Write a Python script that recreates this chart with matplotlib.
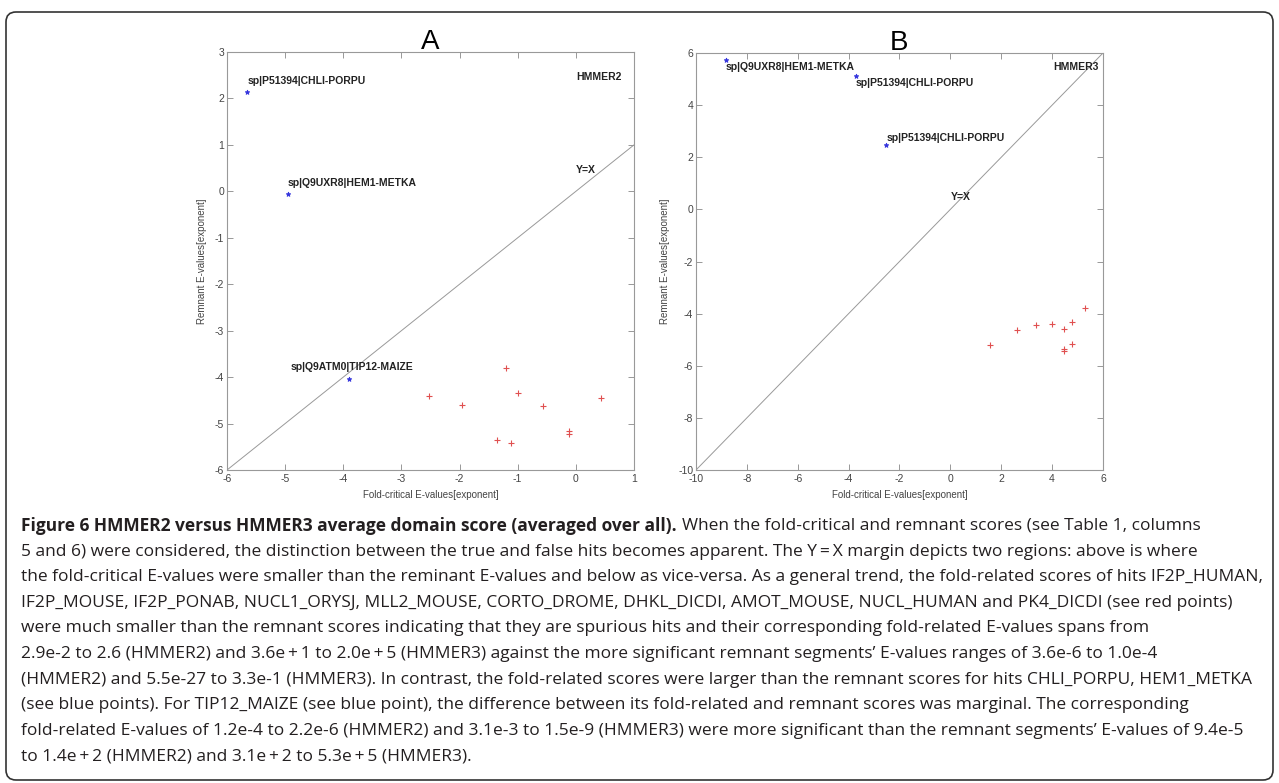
import matplotlib
matplotlib.use('agg')
import matplotlib.pyplot as plt
from matplotlib.patches import FancyBboxPatch
from matplotlib.transforms import IdentityTransform

W, H = 1279, 783

# panel A (HMMER2)
a_blue_x = [-5.65, -4.95, -3.91]
a_blue_y = [2.14, -0.05, -4.03]
a_blue_lbl = ['sp|P51394|CHLI-PORPU', 'sp|Q9UXR8|HEM1-METKA', 'sp|Q9ATM0|TIP12-MAIZE']
a_red_x = [-2.53, -1.96, -1.21, -0.99, -0.56, 0.43, -1.36, -1.12, -0.12, -0.12]
a_red_y = [-4.41, -4.60, -3.80, -4.35, -4.62, -4.44, -5.35, -5.41, -5.17, -5.22]

# panel B (HMMER3)
b_blue_x = [-8.83, -3.72, -2.52]
b_blue_y = [5.73, 5.13, 2.47]
b_blue_lbl = ['sp|Q9UXR8|HEM1-METKA', 'sp|P51394|CHLI-PORPU', 'sp|P51394|CHLI-PORPU']
b_red_x = [1.56, 2.61, 3.36, 3.99, 4.47, 4.78, 5.30, 4.47, 4.47, 4.78]
b_red_y = [-5.22, -4.63, -4.45, -4.41, -4.60, -4.34, -3.80, -5.35, -5.42, -5.18]

caption_bold = 'Figure 6 HMMER2 versus HMMER3 average domain score (averaged over all).'
caption_lines = [
    'When the fold-critical and remnant scores (see Table 1, columns',
    '5 and 6) were considered, the distinction between the true and false hits becomes apparent. The Y\u2009=\u2009X margin depicts two regions: above is where',
    'the fold-critical E-values were smaller than the reminant E-values and below as vice-versa. As a general trend, the fold-related scores of hits IF2P_HUMAN,',
    'IF2P_MOUSE, IF2P_PONAB, NUCL1_ORYSJ, MLL2_MOUSE, CORTO_DROME, DHKL_DICDI, AMOT_MOUSE, NUCL_HUMAN and PK4_DICDI (see red points)',
    'were much smaller than the remnant scores indicating that they are spurious hits and their corresponding fold-related E-values spans from',
    '2.9e-2 to 2.6 (HMMER2) and 3.6e\u2009+\u20091 to 2.0e\u2009+\u20095 (HMMER3) against the more significant remnant segments\u2019 E-values ranges of 3.6e-6 to 1.0e-4',
    '(HMMER2) and 5.5e-27 to 3.3e-1 (HMMER3). In contrast, the fold-related scores were larger than the remnant scores for hits CHLI_PORPU, HEM1_METKA',
    '(see blue points). For TIP12_MAIZE (see blue point), the difference between its fold-related and remnant scores was marginal. The corresponding',
    'fold-related E-values of 1.2e-4 to 2.2e-6 (HMMER2) and 3.1e-3 to 1.5e-9 (HMMER3) were more significant than the remnant segments\u2019 E-values of 9.4e-5',
    'to 1.4e\u2009+\u20092 (HMMER2) and 3.1e\u2009+\u20092 to 5.3e\u2009+\u20095 (HMMER3).',
]

plt.rcParams['font.family'] = ['Liberation Sans', 'DejaVu Sans']
plt.rcParams['axes.unicode_minus'] = False
fig = plt.figure(figsize=(W / 100, H / 100), dpi=100)
fig.patch.set_facecolor('white')


def box(l, t, r, b):
    return [l / W, 1 - b / H, (r - l) / W, (b - t) / H]


def style(ax, lims, ticks, title):
    ax.set_xlim(lims[0], lims[1])
    ax.set_ylim(lims[2], lims[3])
    ax.set_xticks(ticks[0])
    ax.set_yticks(ticks[1])
    ax.tick_params(direction='in', top=True, right=True, length=4, width=0.6,
                   color='#888888', labelsize=7.5, labelcolor='#444444', pad=2)
    ax.tick_params(axis='x', pad=3)
    for s in ax.spines.values():
        s.set_color('#999999')
        s.set_linewidth(0.8)
    ax.set_xlabel('Fold-critical E-values[exponent]', fontsize=7, color='#444444', labelpad=4)
    ax.set_ylabel('Remnant E-values[exponent]', fontsize=7, color='#444444', labelpad=6)
    ax.set_title(title, fontsize=20, pad=2)


axA = fig.add_axes(box(227, 52, 634, 470))
axB = fig.add_axes(box(696, 53, 1103, 470))

style(axA, (-6, 1, -6, 3), (range(-6, 2), range(-6, 4)), 'A')
style(axB, (-10, 6, -10, 6), (range(-10, 7, 2), range(-10, 7, 2)), 'B')

lblkw = dict(fontsize=7.5, color='#222222', fontweight='bold')

# panel A
axA.plot([-6, 1], [-6, 1], color='#999999', lw=0.7)
axA.plot(a_blue_x, a_blue_y, '*', color='#3333dd', ms=3.5, mew=0.6)
axA.plot(a_red_x, a_red_y, '+', color='#e05050', ms=5, mew=0.8)
axA.text(a_blue_x[0], a_blue_y[0] + 0.24, a_blue_lbl[0], ha='left', va='center', **lblkw)
axA.text(a_blue_x[1], a_blue_y[1] + 0.24, a_blue_lbl[1], ha='left', va='center', **lblkw)
axA.text(a_blue_x[2] - 0.99, a_blue_y[2] + 0.24, a_blue_lbl[2], ha='left', va='center', **lblkw)
axA.text(0.0, 2.46, 'HMMER2', ha='left', va='center', **lblkw)
axA.text(0.0, 0.46, 'Y=X', ha='left', va='center', **lblkw)

# panel B
axB.plot([-10, 6], [-10, 6], color='#999999', lw=0.7)
axB.plot(b_blue_x, b_blue_y, '*', color='#3333dd', ms=3.5, mew=0.6)
axB.plot(b_red_x, b_red_y, '+', color='#e05050', ms=5, mew=0.8)
axB.text(b_blue_x[0], b_blue_y[0] - 0.28, b_blue_lbl[0], ha='left', va='center', **lblkw)
axB.text(b_blue_x[1], b_blue_y[1] - 0.3, b_blue_lbl[1], ha='left', va='center', **lblkw)
axB.text(b_blue_x[2], b_blue_y[2] + 0.26, b_blue_lbl[2], ha='left', va='center', **lblkw)
axB.text(4.03, 5.47, 'HMMER3', ha='left', va='center', **lblkw)
axB.text(0.0, 0.46, 'Y=X', ha='left', va='center', **lblkw)

# frame around figure + caption
frame = FancyBboxPatch((6, H - 780), W - 12, 768,
                       boxstyle='round,pad=0,rounding_size=10',
                       transform=IdentityTransform(), fill=False,
                       ec='#333333', lw=1.2)
fig.patches.append(frame)

# caption
cap_font = ['Open Sans', 'DejaVu Sans']
cap_size = 12.5
x0, y0, dy = 21, 526, 25.6
r = fig.canvas.get_renderer()
t = fig.text(x0 / W, 1 - y0 / H, caption_bold, fontsize=cap_size, family=cap_font,
             fontweight='bold', color='#231f20', va='center', ha='left')
bb = t.get_window_extent(renderer=r)
fig.text((bb.x1 + 5) / W, 1 - y0 / H, caption_lines[0], fontsize=cap_size, family=cap_font,
         color='#231f20', va='center', ha='left')
for i, line in enumerate(caption_lines[1:], start=1):
    fig.text(x0 / W, 1 - (y0 + i * dy) / H, line, fontsize=cap_size, family=cap_font,
             color='#231f20', va='center', ha='left')

fig.savefig('out.png', dpi=100)
plt.close()
